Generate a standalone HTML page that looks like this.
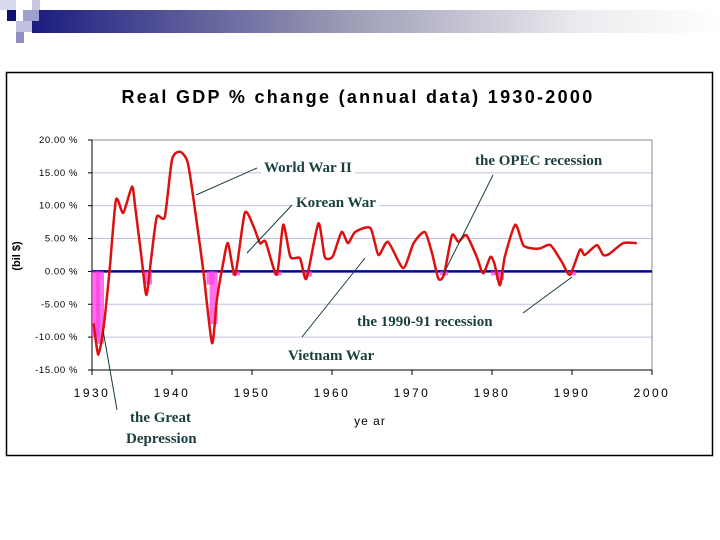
<!DOCTYPE html>
<html><head><meta charset="utf-8"><style>
body{margin:0;width:720px;height:540px;background:#fff;overflow:hidden;position:relative;font-family:"Liberation Sans",sans-serif}
</style></head><body>
<svg width="720" height="540" style="position:absolute;left:0;top:0">
<defs><linearGradient id="bar" x1="0" x2="1"><stop offset="0" stop-color="#1c1c80"/><stop offset="0.45" stop-color="#9a9ab4"/><stop offset="0.8" stop-color="#ececf0"/><stop offset="1" stop-color="#fff"/></linearGradient></defs>
<g>
<rect x="32" y="10" width="688" height="23" fill="url(#bar)"/>
<rect x="0" y="0" width="16" height="10" fill="#d8d8ee"/><rect x="32" y="0" width="8" height="10" fill="#c8c8e4"/>
<rect x="7" y="10" width="9" height="11" fill="#101070"/><rect x="23" y="10" width="16" height="11" fill="#a0a0cc"/>
<rect x="16" y="21" width="16" height="11" fill="#c0c0e0"/><rect x="16" y="32" width="8" height="11" fill="#9090c0"/>
</g>
<rect x="6.5" y="72.5" width="706" height="383" fill="#fff" stroke="#000" stroke-width="1.5"/>
<text x="358" y="103" text-anchor="middle" font-size="18" font-weight="bold" letter-spacing="2.3">Real GDP % change (annual data) 1930-2000</text>
<text transform="translate(20,256) rotate(-90)" text-anchor="middle" font-size="11" font-weight="bold">(bil $)</text>
<text x="370" y="425" text-anchor="middle" font-size="12" letter-spacing="1">ye ar</text>
<g id="grid"></g><g id="axes"></g><g id="dots"></g><g id="series"></g><g id="ann"></g>
</svg>
<script>
const years=[1930.2,1930.8,1931.5,1932.2,1933,1933.9,1935,1935.4,1936.2,1936.8,1937.4,1938.1,1939.1,1940,1941,1942,1943.1,1943.9,1945,1945.6,1946.4,1947,1947.9,1949.1,1950.2,1951,1951.7,1953.1,1953.9,1954.8,1956,1956.8,1958.3,1959.1,1960.1,1961.2,1962,1962.9,1964.8,1965.8,1967,1968.9,1970.2,1971.6,1972.5,1973.3,1974,1975,1975.8,1976.8,1978.1,1978.9,1979.8,1980.3,1981,1981.6,1982.9,1983.9,1985,1986,1987.3,1988.7,1989.75,1991,1991.6,1993.1,1993.9,1994.7,1996.4,1998.1];
const values=[-7.9,-12.7,-8,0.2,10.9,8.9,12.9,9.8,2,-3.6,2,8.3,8.3,17,18.2,16.4,7.4,0.2,-10.9,-4.4,1.3,4.3,-0.5,8.9,6.8,4.3,4.5,-0.5,7.1,2.2,2.0,-1.1,7.3,2.2,2.3,6.0,4.3,6.0,6.6,2.5,4.5,0.5,4.3,6.0,2.8,-1.1,-0.5,5.5,4.5,5.5,2.2,-0.3,2.2,1.2,-2.1,2.2,7.1,4.0,3.5,3.5,4.0,1.5,-0.5,3.3,2.5,4.0,2.5,2.7,4.3,4.3];
const yTicks=[20,15,10,5,0,-5,-10,-15];
const yTickLabels=["20.00 %","15.00 %","10.00 %","5.00 %","0.00 %","-5.00 %","-10.00 %","-15.00 %"];
const xTicks=[1930,1940,1950,1960,1970,1980,1990,2000];
const recessionYears=[1930.5,1931,1937,1944.8,1945.2,1948,1953.2,1957,1974,1980.4,1981,1990];
const recessionDepth=[-10,-11,-2,-2,-8,-0.3,-0.3,-0.8,-0.5,-0.5,-1.3,-0.3];
const X=y=>92+(y-1930)*8, Y=v=>271.4-v*230/35;
const NS='http://www.w3.org/2000/svg';
function mk(t,a,p){const e=document.createElementNS(NS,t);for(const k in a)e.setAttribute(k,a[k]);(p||document.getElementById('axes')).appendChild(e);return e;}
const grid=document.getElementById('grid'),axes=document.getElementById('axes');
yTicks.forEach((v,i)=>{
 if(v!==0&&v!==-15){const l=mk('line',{x1:92,x2:652,y1:Y(v),y2:Y(v),stroke:v===20?'#888':'#c0c0dc','stroke-width':1},grid);
 
 }
 const tk=mk('line',{x1:88,x2:92,y1:Y(v),y2:Y(v),stroke:'#000'});
 
 
 const t=mk('text',{x:78,y:Y(v)+3,'text-anchor':'end','font-size':9.5,'letter-spacing':0.6});t.textContent=yTickLabels[i];
 
 
});
const rb=mk('line',{x1:652,x2:652,y1:Y(20),y2:Y(-15),stroke:'#888'},grid);


const ya=mk('line',{x1:92,x2:92,y1:Y(20),y2:Y(-15),stroke:'#000'});


const xa=mk('line',{x1:92,x2:652,y1:Y(-15),y2:Y(-15),stroke:'#000'});


xTicks.forEach(y=>{
 const tk=mk('line',{x1:X(y),x2:X(y),y1:Y(-15),y2:Y(-15)+5,stroke:'#000'});
 
 
 const t=mk('text',{x:X(y),y:397,'text-anchor':'middle','font-size':12,'letter-spacing':2.5});t.textContent=y;
 
 
});
const dots=document.getElementById('dots');
recessionYears.forEach((y,i)=>{
 const d=recessionDepth[i];
 const r=mk('rect',{x:X(y)-4,y:Y(0),width:8,height:Math.max(Y(d)-Y(0),4),fill:'#ff40e0',opacity:0.75},dots);
 
 
});
const zl=mk('line',{x1:92,x2:652,y1:Y(0),y2:Y(0),stroke:'#0000a0','stroke-width':2.5});


const pts=years.map((y,i)=>[X(y),Y(values[i])]);
let d='M'+pts[0][0]+','+pts[0][1];
for(let i=0;i<pts.length-1;i++){const p0=pts[Math.max(0,i-1)],p1=pts[i],p2=pts[i+1],p3=pts[Math.min(pts.length-1,i+2)];
 d+=` C${p1[0]+(p2[0]-p0[0])/9},${p1[1]+(p2[1]-p0[1])/9} ${p2[0]-(p3[0]-p1[0])/9},${p2[1]-(p3[1]-p1[1])/9} ${p2[0]},${p2[1]}`;}
const line=mk('path',{d:d,fill:'none',stroke:'#dd1010','stroke-width':2.5,'stroke-linejoin':'round'},document.getElementById('series'));


const ann=document.getElementById('ann');
const notes=[["World War II",264,172,[[196,195],[257,168]],"wwii"],["Korean War",296,207,[[247,253],[292,205]],"korean-war"],["the OPEC recession",475,165,[[443,275],[493,175]],"opec"],["the 1990-91 recession",357,326,[[572,277],[523,313]],"recession-1990"],["Vietnam War",288,360,[[365,258],[302,337]],"vietnam-war"],["the Great",130,422,[[103,330],[117,410]],"great-depression"],["Depression",126,443,null,"great-depression-2"]];
notes.forEach(n=>{
 if(n[3]){const l=mk('line',{x1:n[3][0][0],y1:n[3][0][1],x2:n[3][1][0],y2:n[3][1][1],stroke:'#1a3a3a','stroke-width':1},ann);
 
 }
 const t=mk('text',{x:n[1],y:n[2],'font-family':'"Liberation Serif",serif','font-size':15,'font-weight':'bold',fill:'#1a3f3f'},ann);t.textContent=n[0];
 
 
 const b=t.getBBox();
 const bg=mk('rect',{x:b.x-3,y:b.y,width:b.width+6,height:b.height,fill:'#fff'},ann);
 ann.insertBefore(bg,t);
 
 
});
</script>
</body></html>
